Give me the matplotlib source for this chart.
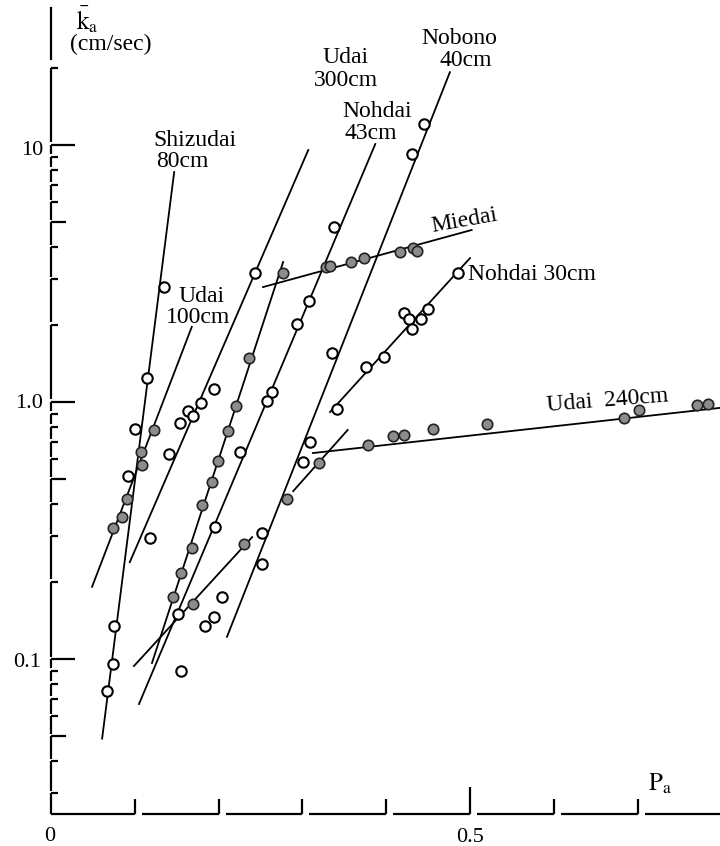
import numpy as np
import matplotlib
matplotlib.use('Agg')
from matplotlib import pyplot as plt

plt.rcParams['font.family'] = ['Liberation Serif', 'DejaVu Serif']
plt.rcParams['mathtext.fontset'] = 'stix'

# x = P_a , y = k_a (cm/sec)
# Shizudai 80cm (open)
shizu_x = [0.135, 0.115, 0.100, 0.092, 0.075, 0.074, 0.067]
shizu_y = [2.80, 1.24, 0.785, 0.515, 0.134, 0.096, 0.075]
shizu_fit_x = [0.061, 0.147]
shizu_fit_y = [0.049, 7.85]
# Udai 100cm (filled)
udai100_x = [0.123, 0.107, 0.109, 0.091, 0.085, 0.074]
udai100_y = [0.778, 0.639, 0.569, 0.420, 0.357, 0.323]
udai100_fit_x = [0.049, 0.168]
udai100_fit_y = [0.191, 1.96]
# Udai 300cm (open)
udai300_x = [0.243, 0.195, 0.179, 0.164, 0.170, 0.154, 0.141, 0.118]
udai300_y = [3.18, 1.124, 0.991, 0.923, 0.882, 0.829, 0.628, 0.296]
udai300_fit_x = [0.094, 0.307]
udai300_fit_y = [0.238, 9.56]
# unlabeled filled series
fil_x = [0.236, 0.221, 0.211, 0.199, 0.192, 0.180, 0.168, 0.155, 0.146]
fil_y = [1.483, 0.965, 0.771, 0.589, 0.488, 0.397, 0.270, 0.216, 0.174]
fil_fit_x = [0.1205, 0.277]
fil_fit_y = [0.0965, 3.505]
# Nohdai 43cm (open)
noh43_x = [0.338, 0.308, 0.294, 0.264, 0.258, 0.226, 0.196]
noh43_y = [4.80, 2.47, 2.01, 1.094, 1.009, 0.639, 0.326]
noh43_fit_x = [0.105, 0.387]
noh43_fit_y = [0.0668, 10.09]
# Nobono 40cm (open)
nob_x = [0.445, 0.431, 0.335, 0.309, 0.301, 0.252, 0.252]
nob_y = [12.07, 9.23, 1.551, 0.699, 0.584, 0.309, 0.234]
nob_fit_x = [0.210, 0.476]
nob_fit_y = [0.122, 19.2]
# short lower series
low_fx = [0.230, 0.170]
low_fy = [0.280, 0.164]
low_ox = [0.152, 0.204, 0.195, 0.184, 0.155]
low_oy = [0.150, 0.174, 0.146, 0.134, 0.090]
low_fit_x = [0.099, 0.240]
low_fit_y = [0.0939, 0.298]
# short junction series (filled)
jun_x = [0.320, 0.282]
jun_y = [0.579, 0.420]
jun_fit_x = [0.289, 0.354]
jun_fit_y = [0.450, 0.778]
# Udai 240cm (filled)
u240_x = [0.378, 0.408, 0.421, 0.456, 0.520, 0.684, 0.702, 0.771, 0.784]
u240_y = [0.680, 0.737, 0.744, 0.785, 0.821, 0.866, 0.931, 0.973, 0.982]
u240_fit_x = [0.3126, 0.80]
u240_fit_y = [0.633, 0.950]
# Miedai (filled)
mie_x = [0.277, 0.328, 0.333, 0.358, 0.374, 0.417, 0.432, 0.437]
mie_y = [3.18, 3.35, 3.38, 3.505, 3.63, 3.835, 3.97, 3.87]
mie_fit_x = [0.253, 0.502]
mie_fit_y = [2.80, 4.67]
# Nohdai 30cm (open)
noh30_x = [0.486, 0.450, 0.442, 0.421, 0.427, 0.431, 0.397, 0.376, 0.341]
noh30_y = [3.18, 2.30, 2.104, 2.221, 2.104, 1.923, 1.497, 1.368, 0.939]
noh30_fit_x = [0.333, 0.500]
noh30_fit_y = [0.914, 3.63]

y_ticks = [0.03, 0.04, 0.05, 0.06, 0.07, 0.08, 0.09,
           0.1, 0.2, 0.3, 0.4, 0.5, 0.6, 0.7, 0.8, 0.9,
           1, 2, 3, 4, 5, 6, 7, 8, 9, 10, 20]
x_ticks = [0.1, 0.2, 0.3, 0.4, 0.5, 0.6, 0.7]

W, H = 720, 846
fig = plt.figure(figsize=(7.2, 8.46), dpi=100)
ax = fig.add_axes([0, 0, 1, 1])
ax.set_yscale('log')
ax.set_xlim(-51 / 838, (W - 51) / 838)
ax.set_ylim(10 ** (1 - (H - 145) / 257), 10 ** (1 + 145 / 257))
ax.axis('off')

def fpos(x, y):
    return x / W, 1 - y / H

lw = 1.3
fits = [(shizu_fit_x, shizu_fit_y), (udai100_fit_x, udai100_fit_y),
        (udai300_fit_x, udai300_fit_y), (fil_fit_x, fil_fit_y),
        (noh43_fit_x, noh43_fit_y), (nob_fit_x, nob_fit_y),
        (low_fit_x, low_fit_y), (jun_fit_x, jun_fit_y),
        (u240_fit_x, u240_fit_y), (mie_fit_x, mie_fit_y),
        (noh30_fit_x, noh30_fit_y)]
for fx, fy in fits:
    ax.plot(fx, fy, color='black', lw=lw, zorder=2)

opens = [(shizu_x, shizu_y), (udai300_x, udai300_y), (noh43_x, noh43_y),
         (nob_x, nob_y), (low_ox, low_oy), (noh30_x, noh30_y)]
filled = [(udai100_x, udai100_y), (fil_x, fil_y), (low_fx, low_fy),
          (jun_x, jun_y), (u240_x, u240_y), (mie_x, mie_y)]
for px_, py_ in opens:
    ax.plot(px_, py_, 'o', ms=7.5, mfc='white', mec='black', mew=1.5, ls='none', zorder=3)
for px_, py_ in filled:
    ax.plot(px_, py_, 'o', ms=7.5, mfc='#8c8c8c', mec='#222222', mew=1.2, ls='none', zorder=3)

# y axis drawn as broken "Г" segments
base = 0.025
gap = 10 ** (2.5 / 257)
alw = 1.6
prev = base
for i, t in enumerate(y_ticks):
    lo = base if i == 0 else prev * gap
    ax.plot([0, 0], [lo, t], color='black', lw=alw, solid_capstyle='butt', clip_on=False)
    if t in (0.1, 1, 10):
        tl = 24 / 838
    elif t in (0.05, 0.5, 5):
        tl = 15 / 838
    else:
        tl = 7 / 838
    ax.plot([0, tl], [t, t], color='black', lw=alw, solid_capstyle='butt', clip_on=False)
    prev = t
ax.plot([0, 0], [20 * 10 ** (9 / 257), 34], color='black', lw=alw, clip_on=False)

# x axis drawn as broken segments
xgap = 7 / 838
start = 0
for t in x_ticks:
    ax.plot([start, t], [base, base], color='black', lw=alw, solid_capstyle='butt', clip_on=False)
    up = 27 if t == 0.5 else 15
    ax.plot([t, t], [base, base * 10 ** (up / 257)], color='black', lw=alw,
            solid_capstyle='butt', clip_on=False)
    start = t + xgap
ax.plot([start, 0.80], [base, base], color='black', lw=alw, solid_capstyle='butt')

fs = 17
def lab(x, y, s, **kw):
    fig.text(*fpos(x, y), s, fontsize=kw.pop('fontsize', fs), ha=kw.pop('ha', 'center'),
             va=kw.pop('va', 'baseline'), **kw)

lab(43, 155, '10', ha='right', fontsize=16)
lab(43, 408, '1.0', ha='right', fontsize=16)
lab(41, 667, '0.1', ha='right', fontsize=16)
lab(50, 841, '0', fontsize=16)
lab(470, 842, '0.5', fontsize=16)

lab(76, 30, r'$\bar{\mathrm{k}}_{\mathrm{a}}$', ha='left', fontsize=18)
lab(70, 50, '(cm/sec)', ha='left')
lab(648, 791, r'$\mathrm{P}_{\mathrm{a}}$', ha='left', fontsize=18)

lab(195, 146, 'Shizudai')
lab(182, 167, '80cm')
lab(202, 302, 'Udai')
lab(198, 323, '100cm')
lab(346, 63, 'Udai')
lab(346, 86, '300cm')
lab(377, 117, 'Nohdai')
lab(371, 139, '43cm')
lab(459, 44, 'Nobono')
lab(466, 66, '40cm')
lab(465, 226, 'Miedai', rotation=10, rotation_mode='anchor')
lab(532, 280, 'Nohdai 30cm')
lab(608, 406, 'Udai  240cm', rotation=4.5, rotation_mode='anchor')

fig.savefig('out.png', dpi=100)
